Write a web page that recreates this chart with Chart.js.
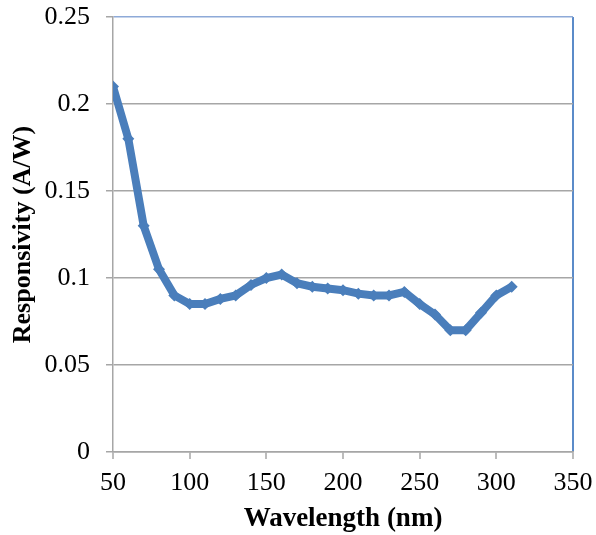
<!DOCTYPE html>
<html>
<head>
<meta charset="utf-8">
<script src="https://cdn.jsdelivr.net/npm/chart.js@4"></script>
<style>
  html, body { margin: 0; padding: 0; background: #fff; }
  #wrap { width: 596px; height: 535px; }
</style>
</head>
<body>
<div id="wrap"><canvas id="chart" width="596" height="535"></canvas></div>
<script>
// wavelength (nm) and responsivity (A/W)
const wavelengths = [50, 60, 70, 80, 90, 100, 110, 120, 130, 140, 150, 160, 170, 180, 190,
  200, 210, 220, 230, 240, 250, 260, 270, 280, 290, 300, 310];
const responsivity = [0.21, 0.18, 0.13, 0.105, 0.09, 0.085, 0.085, 0.088, 0.09, 0.096, 0.1, 0.102,
  0.097, 0.095, 0.094, 0.093, 0.091, 0.09, 0.09, 0.092, 0.085, 0.079, 0.07, 0.07, 0.08, 0.09, 0.095];

const xTicks = [50, 100, 150, 200, 250, 300, 350];
const yTicks = [0, 0.05, 0.1, 0.15, 0.2, 0.25];

const serif = "'Liberation Serif', 'Times New Roman', serif";
const blue = '#4a7ebb';
const grey = '#a6a6a6';

const ctx = document.getElementById('chart').getContext('2d');
new Chart(ctx, {
  type: 'line',
  data: {
    datasets: [{
      data: wavelengths.map((w, i) => ({ x: w, y: responsivity[i] })),
      borderColor: blue,
      backgroundColor: blue,
      borderWidth: 8,
      pointStyle: 'rectRot',
      pointRadius: 6,
      pointBorderWidth: 0,
      tension: 0,
      fill: false
    }]
  },
  options: {
    responsive: false,
    animation: false,
    devicePixelRatio: 1,
    layout: { padding: { left: 0, right: 23, top: 17, bottom: 0 } },
    plugins: { legend: { display: false }, tooltip: { enabled: false } },
    scales: {
      x: {
        type: 'linear',
        min: 50,
        max: 350,
        afterBuildTicks: s => { s.ticks = xTicks.map(v => ({ value: v })); },
        afterFit: s => { s.height = 83; s.paddingLeft = 0; s.paddingRight = 0; },
        ticks: {
          font: { family: serif, size: 26 },
          color: '#000',
          padding: 9,
          maxRotation: 0
        },
        grid: {
          color: c => c.tick && c.tick.value === 350 ? '#5b8bc9' : 'rgba(0,0,0,0)',
          lineWidth: 2,
          tickColor: grey,
          tickLength: 7,
          tickWidth: 1.5
        },
        border: { color: grey, width: 1.5 },
        title: {
          display: true,
          text: 'Wavelength (nm)',
          font: { family: serif, size: 27, weight: 'bold' },
          color: '#000',
          padding: { top: 0, bottom: 0 }
        }
      },
      y: {
        min: 0,
        max: 0.25,
        afterBuildTicks: s => { s.ticks = yTicks.map(v => ({ value: v })); },
        afterFit: s => { s.width = 113; s.paddingTop = 0; s.paddingBottom = 0; },
        ticks: {
          font: { family: serif, size: 26 },
          color: '#000',
          padding: 16,
          callback: v => String(Number(v.toFixed(2)))
        },
        grid: {
          color: c => c.tick && c.tick.value === 0.25 ? '#8eaad8' : grey,
          lineWidth: 1.5,
          tickColor: grey,
          tickLength: 7
        },
        border: { color: grey, width: 1.5 },
        title: {
          display: true,
          text: 'Responsivity (A/W)',
          font: { family: serif, size: 26, weight: 'bold' },
          color: '#000',
          padding: { top: 8, bottom: 0 }
        }
      }
    }
  }
});
</script>
</body>
</html>
